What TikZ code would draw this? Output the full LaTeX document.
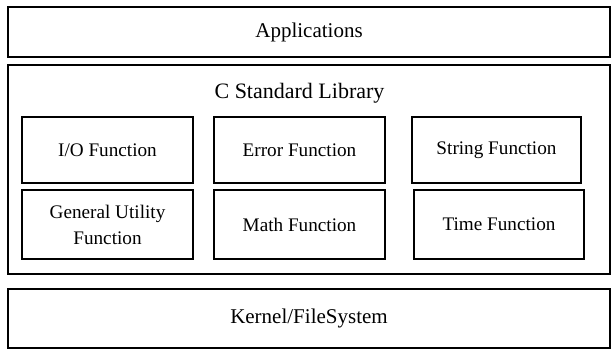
\documentclass[tikz,border=0pt]{standalone}
\usepackage{fontspec}
\setmainfont{Liberation Serif}
\usepackage{tikz}
\usetikzlibrary{positioning}

\begin{document}
\begin{tikzpicture}[
    x=0.5pt, y=-0.5pt,
    layer/.style={draw, line width=1pt, minimum width=301pt, inner sep=0pt, align=center, font=\fontsize{10.5}{12.5}\selectfont},
    box/.style={draw, line width=0.8pt, minimum width=85.5pt, minimum height=33pt, inner sep=0pt, align=center, font=\fontsize{9.6}{13}\selectfont}
]
    \useasboundingbox (0,0) rectangle (611,349);
    % layers
    \node[layer, minimum height=25pt] (apps) at (309,32) {Applications};
    \node[layer, minimum height=104.5pt] (clib) at (309,169.5) {};
    \node[layer, minimum height=29.5pt] (kernel) at (309,318.5) {Kernel/FileSystem};
    \node[font=\fontsize{11}{13}\selectfont] (title) at (299.5,93) {C Standard Library};
    % functions
    \node[box] (io) at (107.5,150) {I/O Function};
    \node[box] (error) at (299.5,150) {Error Function};
    \node[box, minimum width=84.5pt] (string) at (496.5,150) {String Function};
    \node[box, minimum height=34.5pt] (util) at (107.5,224.5) {General Utility\\Function};
    \node[box, minimum height=34.5pt] (math) at (299.5,224.5) {Math Function};
    \node[box, minimum width=85pt, minimum height=34.5pt] (time) at (499,224.5) {Time Function};
\end{tikzpicture}
\end{document}
